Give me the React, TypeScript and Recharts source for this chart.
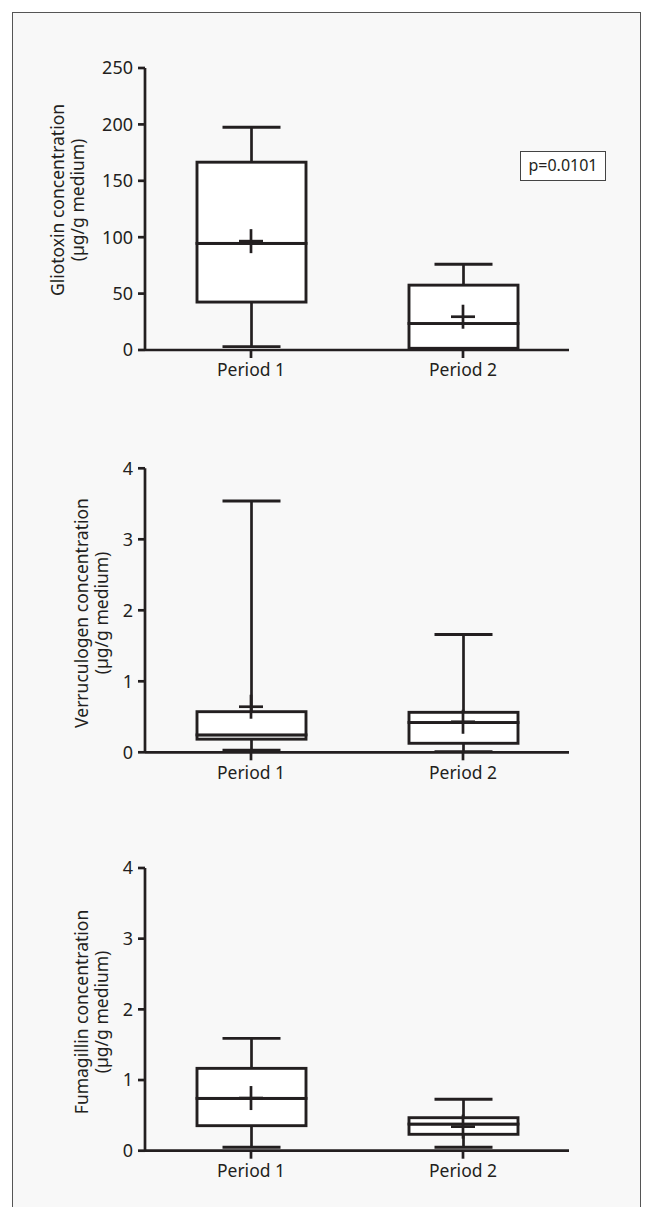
import React from 'react';
import { ComposedChart, Bar, Scatter, XAxis, YAxis } from 'recharts';

const periods = ['Period 1', 'Period 2'];

const gliotoxinMin = [3, 0.3];
const gliotoxinQ1 = [42.5, 1.5];
const gliotoxinMedian = [94.5, 23.5];
const gliotoxinQ3 = [166.5, 57.5];
const gliotoxinMax = [197.5, 76];
const gliotoxinMean = [96.5, 29.5];
const gliotoxinTicks = [0, 50, 100, 150, 200, 250];

const verruculogenMin = [0.03, 0.01];
const verruculogenQ1 = [0.185, 0.127];
const verruculogenMedian = [0.245, 0.42];
const verruculogenQ3 = [0.572, 0.563];
const verruculogenMax = [3.54, 1.66];
const verruculogenMean = [0.642, 0.43];

const fumagillinMin = [0.048, 0.048];
const fumagillinQ1 = [0.354, 0.232];
const fumagillinMedian = [0.74, 0.377];
const fumagillinQ3 = [1.165, 0.467];
const fumagillinMax = [1.59, 0.727];
const fumagillinMean = [0.745, 0.34];
const microTicks = [0, 1, 2, 3, 4];

const INK = '#231f20';
const FONT = '"Noto Sans", "Open Sans", sans-serif';

function buildRows(min: number[], q1: number[], med: number[], q3: number[], max: number[], mean: number[]) {
  return periods.map((name, i) => ({
    name,
    base: min[i],
    lowW: q1[i] - min[i],
    lowBox: med[i] - q1[i],
    highBox: q3[i] - med[i],
    highW: max[i] - q3[i],
    mean: mean[i],
  }));
}

const CAP_W = 58;

const Hidden = () => <g />;

const LowWhisker = (p: any) => {
  const cx = p.x + p.width / 2;
  const yb = p.y + p.height;
  return (
    <g>
      <line x1={cx} x2={cx} y1={p.y} y2={yb} stroke={INK} strokeWidth={2.7} />
      <line x1={cx - CAP_W / 2} x2={cx + CAP_W / 2} y1={yb} y2={yb} stroke={INK} strokeWidth={2.9} />
    </g>
  );
};

const HighWhisker = (p: any) => {
  const cx = p.x + p.width / 2;
  return (
    <g>
      <line x1={cx} x2={cx} y1={p.y} y2={p.y + p.height} stroke={INK} strokeWidth={2.7} />
      <line x1={cx - CAP_W / 2} x2={cx + CAP_W / 2} y1={p.y} y2={p.y} stroke={INK} strokeWidth={2.9} />
    </g>
  );
};

const BoxPart = (p: any) => (
  <rect x={p.x} y={p.y} width={p.width} height={Math.max(p.height, 0)} fill="#ffffff" stroke={INK} strokeWidth={2.9} />
);

const MeanCross = (p: any) => {
  const { cx, cy } = p;
  const h = 12;
  return (
    <g>
      <line x1={cx - h} x2={cx + h} y1={cy} y2={cy} stroke={INK} strokeWidth={2.7} />
      <line x1={cx} x2={cx} y1={cy - h} y2={cy + h} stroke={INK} strokeWidth={2.7} />
    </g>
  );
};

type PanelProps = {
  top: number;
  height: number;
  marginTop: number;
  marginBottom: number;
  rows: any[];
  domainMax: number;
  ticks: number[];
  line1: string;
  line2: string;
  labelX: number;
  labelY: number;
};

function Panel(props: PanelProps) {
  const { top, height, marginTop, marginBottom, rows, domainMax, ticks, line1, line2, labelX, labelY } = props;
  const axisStroke = { stroke: INK, strokeWidth: 2.7 };
  const yTickStyle = { fill: INK, fontSize: 18, fontFamily: FONT };
  const xTickStyle = { fill: INK, fontSize: 17.5, fontFamily: FONT };
  const renderLabel = () => (
    <text
      x={labelX}
      y={labelY}
      transform={`rotate(-90, ${labelX}, ${labelY})`}
      textAnchor="middle"
      fill={INK}
      fontSize={17.5}
      fontFamily={FONT}
    >
      <tspan x={labelX} dy={0}>{line1}</tspan>
      <tspan x={labelX} dy={19.5}>{line2}</tspan>
    </text>
  );
  return (
    <div style={{ position: 'absolute', left: 0, top, width: 648, height }}>
      <ComposedChart
        width={648}
        height={height}
        data={rows}
        margin={{ top: marginTop, right: 79, bottom: marginBottom, left: 0 }}
        barSize={109}
      >
        <XAxis
          dataKey="name"
          axisLine={axisStroke}
          tickLine={axisStroke}
          tickSize={8}
          tickMargin={6}
          height={30}
          tick={xTickStyle}
          interval={0}
        />
        <YAxis
          type="number"
          domain={[0, domainMax]}
          ticks={ticks}
          interval={0}
          width={145}
          axisLine={axisStroke}
          tickLine={axisStroke}
          tickSize={7}
          tickMargin={5}
          tick={yTickStyle}
          label={renderLabel}
        />
        <Bar dataKey="base" stackId="box" shape={Hidden} isAnimationActive={false} />
        <Bar dataKey="lowW" stackId="box" shape={LowWhisker} isAnimationActive={false} />
        <Bar dataKey="lowBox" stackId="box" shape={BoxPart} isAnimationActive={false} />
        <Bar dataKey="highBox" stackId="box" shape={BoxPart} isAnimationActive={false} />
        <Bar dataKey="highW" stackId="box" shape={HighWhisker} isAnimationActive={false} />
        <Scatter dataKey="mean" shape={MeanCross} isAnimationActive={false} />
      </ComposedChart>
    </div>
  );
}

export default function App() {
  const glio = buildRows(gliotoxinMin, gliotoxinQ1, gliotoxinMedian, gliotoxinQ3, gliotoxinMax, gliotoxinMean);
  const verr = buildRows(verruculogenMin, verruculogenQ1, verruculogenMedian, verruculogenQ3, verruculogenMax, verruculogenMean);
  const fuma = buildRows(fumagillinMin, fumagillinQ1, fumagillinMedian, fumagillinQ3, fumagillinMax, fumagillinMean);
  return (
    <div
      style={{
        position: 'absolute',
        left: 0,
        top: 0,
        width: 648,
        height: 1207,
        overflow: 'hidden',
        background: '#ffffff',
        fontFamily: FONT,
      }}
    >
      <div
        style={{
          position: 'absolute',
          left: 12,
          top: 12,
          width: 629,
          height: 1300,
          boxSizing: 'border-box',
          border: '1.5px solid #555555',
          background: '#f8f8f8',
        }}
      />
      <Panel
        top={0}
        height={400}
        marginTop={68}
        marginBottom={20}
        rows={glio}
        domainMax={250}
        ticks={gliotoxinTicks}
        line1="Gliotoxin concentration"
        line2="(µg/g medium)"
        labelX={64}
        labelY={200}
      />
      <Panel
        top={400}
        height={400}
        marginTop={68.3}
        marginBottom={17.7}
        rows={verr}
        domainMax={4}
        ticks={microTicks}
        line1="Verruculogen concentration"
        line2="(µg/g medium)"
        labelX={88}
        labelY={213}
      />
      <Panel
        top={800}
        height={407}
        marginTop={68}
        marginBottom={26.3}
        rows={fuma}
        domainMax={4}
        ticks={microTicks}
        line1="Fumagillin concentration"
        line2="(µg/g medium)"
        labelX={88}
        labelY={212}
      />
      <div
        style={{
          position: 'absolute',
          left: 520,
          top: 151,
          width: 86,
          height: 30,
          boxSizing: 'border-box',
          border: '1.2px solid #444444',
          background: '#ffffff',
          color: INK,
          fontSize: 16,
          lineHeight: '27px',
          textAlign: 'center',
          fontFamily: FONT,
        }}
      >
        p=0.0101
      </div>
    </div>
  );
}
